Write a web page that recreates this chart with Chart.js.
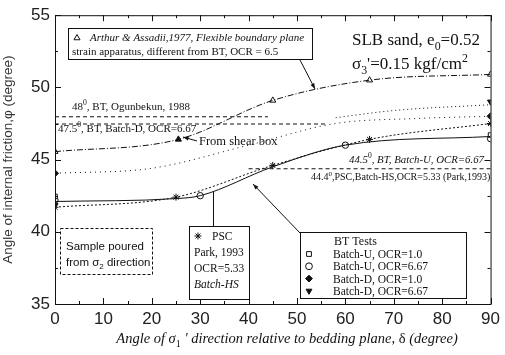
<!DOCTYPE html>
<html><head><meta charset="utf-8">
<script src="https://cdn.jsdelivr.net/npm/chart.js@4.4.1/dist/chart.umd.min.js"></script>
<style>html,body{margin:0;padding:0;background:#fff}#wrap{width:505px;height:355px}</style>
</head><body><div id="wrap"><canvas id="c" width="505" height="355"></canvas></div>
<script>
// ---- data ----
const xTicks = [0,10,20,30,40,50,60,70,80,90];
const yTicks = [35,40,45,50,55];
// fitted curves (control points)
const arthurCurveX = [0, 25.5, 45, 65, 90];
const arthurCurveY = [45.55, 46.4, 49.1, 50.5, 50.9];
const batchUCurveX = [0, 25, 30, 45, 60, 90];
const batchUCurveY = [42.1, 42.3, 42.5, 44.5, 46.0, 46.6];
const pscCurveX = [0, 25, 45, 65, 90];
const pscCurveY = [41.7, 42.4, 44.6, 46.4, 47.5];
const batchD1CurveX = [0, 20, 40, 58, 75, 90];
const batchD1CurveY = [44.05, 44.4, 46.0, 47.5, 47.85, 48.0];
const batchD667CurveX = [58, 70, 90];
const batchD667CurveY = [47.9, 48.4, 48.8];
// markers
const arthurX = [0, 45, 65, 90];          const arthurY = [45.55, 49.1, 50.5, 50.9];
const shearX = [25.5];                     const shearY = [46.4];
const bu1X = [0, 90];                      const bu1Y = [42.45, 46.7];
const bu667X = [0, 30, 60, 90];            const bu667Y = [42.2, 42.5, 46.0, 46.45];
const bd1X = [0, 90];                      const bd1Y = [44.05, 48.0];
const bd667X = [0, 90];                    const bd667Y = [41.85, 49.0];
const pscX = [0, 25, 45, 65, 90];          const pscY = [41.7, 42.4, 44.6, 46.4, 47.5];
// reference lines
const refLines = [
  {y:48.0, x0:0, x1:44},
  {y:47.5, x0:0, x1:56},
  {y:44.4, x0:40, x1:90}
];

const pts = (xs, ys) => xs.map((x,i)=>({x, y:ys[i]}));
const K = '#111';
const curve = (xs, ys, dash, w) => ({type:'line', data:pts(xs,ys), borderColor:K, borderWidth:w||1,
  borderDash:dash, pointRadius:0, fill:false, cubicInterpolationMode:'monotone', showLine:true});
const marks = (xs, ys, style, filled, r, rot) => ({type:'scatter', data:pts(xs,ys), showLine:false,
  pointStyle:style, pointRadius:r||3.5, pointRotation:rot||0, borderColor:K, borderWidth:1,
  backgroundColor: filled ? K : '#fff'});

const serif = "'Liberation Serif','DejaVu Serif',serif";
const sans = "'Liberation Sans','DejaVu Sans',sans-serif";

function rich(ctx, x, y, parts, size, family, align){
  let w = 0;
  const fontFor = m => {
    const sz = (m==='sub'||m==='sup') ? size*0.7 : size;
    return (m==='i'?'italic ':'') + sz + 'px ' + family;
  };
  parts.forEach(p=>{ctx.font = fontFor(p[1]); w += ctx.measureText(p[0]).width;});
  let cx = align==='center' ? x - w/2 : (align==='right' ? x - w : x);
  ctx.textAlign='left'; ctx.textBaseline='alphabetic';
  parts.forEach(p=>{
    ctx.font = fontFor(p[1]);
    let dy = p[1]==='sub' ? size*0.3 : (p[1]==='sup' ? -size*0.42 : 0);
    ctx.fillText(p[0], cx, y+dy);
    cx += ctx.measureText(p[0]).width;
  });
}
function arrow(ctx, x0,y0,x1,y1){
  ctx.beginPath(); ctx.moveTo(x0,y0); ctx.lineTo(x1,y1); ctx.stroke();
  const a = Math.atan2(y1-y0, x1-x0), L=6;
  ctx.beginPath(); ctx.moveTo(x1,y1);
  ctx.lineTo(x1-L*Math.cos(a-0.35), y1-L*Math.sin(a-0.35));
  ctx.lineTo(x1-L*Math.cos(a+0.35), y1-L*Math.sin(a+0.35));
  ctx.closePath(); ctx.fill();
}
function sym(ctx, style, x, y, filled, r){
  ctx.fillStyle = filled ? K : '#fff';
  Chart.helpers.drawPoint(ctx, {pointStyle: style==='tdown'?'triangle':style, radius:r||3.5, rotation: style==='tdown'?180:0, borderWidth:1}, x, y);
  ctx.fillStyle = K;
}

const deco = {
  id:'deco',
  beforeDatasetsDraw(chart){
    const {ctx, scales:{x, y}} = chart;
    ctx.save();
    ctx.strokeStyle=K; ctx.lineWidth=1;
    ctx.setLineDash([4,3]);
    refLines.forEach(r=>{
      ctx.beginPath(); ctx.moveTo(x.getPixelForValue(r.x0), y.getPixelForValue(r.y)+0.5);
      ctx.lineTo(x.getPixelForValue(r.x1), y.getPixelForValue(r.y)+0.5); ctx.stroke();
    });
    ctx.restore();
  },
  afterDatasetsDraw(chart){
    const {ctx, chartArea:a, scales:{x, y}} = chart;
    ctx.save();
    ctx.strokeStyle=K; ctx.fillStyle=K; ctx.lineWidth=1;
    ctx.strokeRect(a.left+0.5, a.top+0.5, a.right-a.left, a.bottom-a.top);
    ctx.beginPath();
    for(let v=0; v<=90; v+=5){
      const px = Math.round(x.getPixelForValue(v))+0.5, L = v%10===0?6:3;
      ctx.moveTo(px, a.bottom); ctx.lineTo(px, a.bottom-L);
      ctx.moveTo(px, a.top); ctx.lineTo(px, a.top+L);
    }
    for(let v=35; v<=55; v+=2.5){
      const py = Math.round(y.getPixelForValue(v))+0.5, L = v%5===0?6:3;
      ctx.moveTo(a.left, py); ctx.lineTo(a.left+L, py);
      ctx.moveTo(a.right, py); ctx.lineTo(a.right-L, py);
    }
    ctx.stroke();

    // Arthur box
    ctx.fillStyle='#fff'; ctx.fillRect(68,28,244,31); ctx.fillStyle=K;
    ctx.strokeRect(68.5,28.5,244,31);
    sym(ctx,'triangle',77,38,false,3.5);
    rich(ctx, 90, 41, [['Arthur & Assadii,1977, ','i'],['Flexible boundary plane','i']], 11, serif);
    rich(ctx, 72, 55, [['strain apparatus, different from BT, OCR = 6.5','']], 11, serif);
    arrow(ctx, 300, 60, 315, 89);

    rich(ctx, 352, 45, [['SLB sand, e',''],['0','sub'],['=0.52','']], 17, serif);
    rich(ctx, 352, 69, [['σ',''],['3','sub'],["'=0.15 kgf/cm",''],['2','sup']], 17, serif);

    rich(ctx, 72, 110, [['48',''],['0','sup'],[', BT, Ogunbekun, 1988','']], 11, serif);
    rich(ctx, 58, 132, [['47.5',''],['0','sup'],[', BT, Batch-D, OCR=6.67','']], 11, serif);
    rich(ctx, 349, 163, [['44.5','i'],['0','sup'],[', BT, Batch-U, OCR=6.67','i']], 10.8, serif);
    rich(ctx, 311, 180, [['44.4',''],['0','sup'],[',PSC,Batch-HS,OCR=5.33 (Park,1993)','']], 10, serif);

    rich(ctx, 199, 145, [['From shear box','']], 12.5, serif);
    arrow(ctx, 197, 141, 183, 137);

    ctx.setLineDash([3,2]);
    ctx.strokeRect(60.5,228.5,92,46);
    ctx.setLineDash([]);
    rich(ctx, 66, 250, [['Sample poured','']], 11.5, sans);
    rich(ctx, 66, 266, [['from σ',''],['2','sub'],[' direction','']], 11.5, sans);

    ctx.fillStyle='#fff'; ctx.fillRect(189,226,60,73); ctx.fillStyle=K;
    ctx.strokeRect(189.5,226.5,60,73);
    ctx.beginPath(); ctx.moveTo(213.5,226); ctx.lineTo(213.5,191); ctx.stroke();
    sym(ctx,'star',198,236,false,3.5);
    rich(ctx, 212, 240, [['PSC','']], 11.5, serif);
    rich(ctx, 194, 256, [['Park, 1993','']], 11.5, serif);
    rich(ctx, 194, 272, [['OCR=5.33','']], 11.5, serif);
    rich(ctx, 194, 288, [['Batch-HS','i']], 11.5, serif);

    ctx.fillStyle='#fff'; ctx.fillRect(300,232,166,66); ctx.fillStyle=K;
    ctx.strokeRect(300.5,232.5,166,66);
    arrow(ctx, 300, 233, 253, 184);
    rich(ctx, 334, 245, [['BT Tests','']], 12, serif);
    const rows = [['rect',false,'Batch-U, OCR=1.0'],['circle',false,'Batch-U, OCR=6.67'],['rectRot',true,'Batch-D, OCR=1.0'],['tdown',true,'Batch-D, OCR=6.67']];
    rows.forEach((r,i)=>{
      const yy = 258 + i*12.3;
      sym(ctx, r[0], 309, yy-4, r[1], 3.4);
      rich(ctx, 333, yy, [[r[2],'']], 11.5, serif);
    });
    rich(ctx, 287, 343, [['Angle of ','i'],['σ','i'],['1','sub'],[" ' direction relative to bedding plane, ",'i'],['δ',''],[' (degree)','i']], 14.5, serif, 'center');
    ctx.restore();
  }
};

new Chart(document.getElementById('c'), {
  data:{datasets:[
    curve(arthurCurveX, arthurCurveY, [6,2,1,2]),
    curve(batchUCurveX, batchUCurveY, []),
    curve(pscCurveX, pscCurveY, [2,2]),
    curve(batchD1CurveX, batchD1CurveY, [1,4]),
    curve(batchD667CurveX, batchD667CurveY, [1,3]),
    marks(arthurX, arthurY, 'triangle', false),
    marks(shearX, shearY, 'triangle', true),
    marks(bu1X, bu1Y, 'rect', false, 3.2),
    marks(bu667X, bu667Y, 'circle', false, 3.2),
    marks(bd1X, bd1Y, 'rectRot', true, 3.5),
    marks(bd667X, bd667Y, 'triangle', true, 3.5, 180),
    marks(pscX, pscY, 'star', false, 3.5)
  ]},
  plugins:[deco],
  options:{
    responsive:false, animation:false, events:[],
    layout:{padding:{top:14, right:10, left:0, bottom:0}},
    plugins:{legend:{display:false}, tooltip:{enabled:false}},
    scales:{
      x:{type:'linear', min:0, max:90, afterFit(s){s.height=51;},
        afterBuildTicks(s){s.ticks = xTicks.map(v=>({value:v}));},
        grid:{display:false, drawTicks:false}, border:{display:false},
        ticks:{color:'#222', font:{family:sans, size:17}, padding:5, maxRotation:0}},
      y:{type:'linear', min:35, max:55, afterFit(s){s.width=55;},
        afterBuildTicks(s){s.ticks = yTicks.map(v=>({value:v}));},
        grid:{display:false, drawTicks:false}, border:{display:false},
        title:{display:true, text:'Angle of internal friction,φ (degree)', color:'#333', font:{family:sans, size:13.5}, padding:0},
        ticks:{color:'#222', font:{family:sans, size:17}, padding:5}}
    }
  }
});
</script></body></html>
